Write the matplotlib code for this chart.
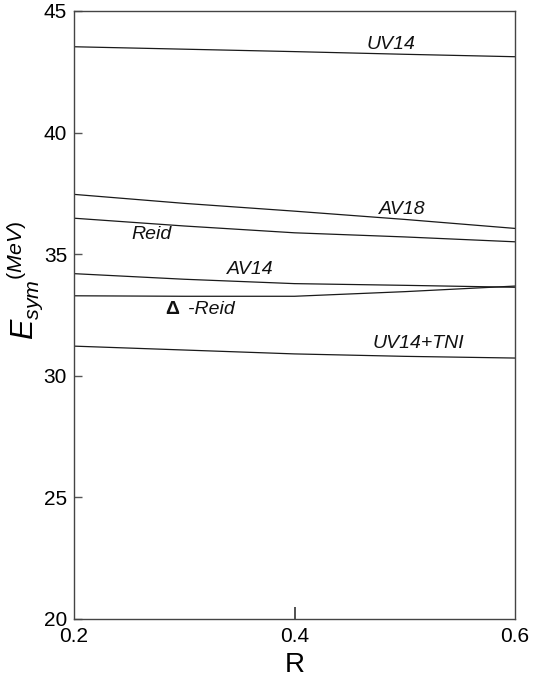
import matplotlib
matplotlib.use("Agg")
import matplotlib.pyplot as plt

plt.rcParams['font.family'] = ['Liberation Sans', 'DejaVu Sans']
plt.rcParams['mathtext.fontset'] = 'custom'
plt.rcParams['mathtext.rm'] = 'Liberation Sans'
plt.rcParams['mathtext.it'] = 'Liberation Sans:italic'
plt.rcParams['mathtext.bf'] = 'Liberation Sans:bold'

# Asymmetry ratio R and symmetry energy (MeV) for each potential
r_values = [0.2, 0.3, 0.4, 0.5, 0.6]
esym_uv14 = [43.53, 43.43, 43.33, 43.22, 43.12]
esym_av18 = [37.46, 37.09, 36.77, 36.43, 36.06]
esym_reid = [36.48, 36.16, 35.88, 35.71, 35.51]
esym_av14 = [34.20, 33.97, 33.79, 33.72, 33.64]
esym_delta_reid = [33.29, 33.27, 33.27, 33.46, 33.69]
esym_uv14_tni = [31.22, 31.06, 30.90, 30.80, 30.73]

x_ticks = [0.2, 0.4, 0.6]
x_tick_labels = ['0.2', '0.4', '0.6']
y_ticks = [20, 25, 30, 35, 40, 45]
y_tick_labels = ['20', '25', '30', '35', '40', '45']

series = [esym_uv14, esym_av18, esym_reid, esym_av14, esym_delta_reid, esym_uv14_tni]

fig = plt.figure(figsize=(5.33, 6.85), dpi=100)
ax = fig.add_axes([74 / 533, 66 / 685, 441 / 533, 608 / 685])

for ys in series:
    ax.plot(r_values, ys, color='#1a1a1a', linewidth=0.9)

ax.set_xlim(0.2, 0.6)
ax.set_ylim(20, 45)
ax.set_xticks(x_ticks)
ax.set_xticklabels(x_tick_labels)
ax.set_yticks(y_ticks)
ax.set_yticklabels(y_tick_labels)
ax.tick_params(axis='x', direction='in', length=9, width=1.2, color='#333333',
               labelsize=15, pad=6)
ax.tick_params(axis='y', direction='in', length=6, width=1.0, color='#555555',
               labelsize=15, pad=5)
# only the interior x tick is drawn as a mark
xt = ax.xaxis.get_major_ticks()
for t in (xt[0], xt[-1]):
    t.tick1line.set_visible(False)
for spine in ax.spines.values():
    spine.set_color('#444444')
    spine.set_linewidth(1.0)

# curve labels
label_style = dict(fontsize=14, style='italic', ha='center', va='center', color='#111111')
ax.text(0.4875, 43.62, 'UV14', **label_style)
ax.text(0.498, 36.85, 'AV18', **label_style)
ax.text(0.270, 35.83, 'Reid', **label_style)
ax.text(0.360, 34.38, 'AV14', **label_style)
ax.text(0.289, 32.71, '\u0394', fontsize=14, fontweight='bold', ha='center', va='center',
        color='#111111')
ax.text(0.303, 32.71, '-Reid', fontsize=14, style='italic', ha='left', va='center',
        color='#111111')
ax.text(0.512, 31.34, 'UV14+TNI', **label_style)

ax.set_xlabel('R', fontsize=20, labelpad=4)
fig.text(25 / 533, 1 - 280 / 685, r'$E_{sym}{}^{(MeV)}$', rotation=90,
         fontsize=22, ha='center', va='center')

fig.savefig('out.png', dpi=100)
